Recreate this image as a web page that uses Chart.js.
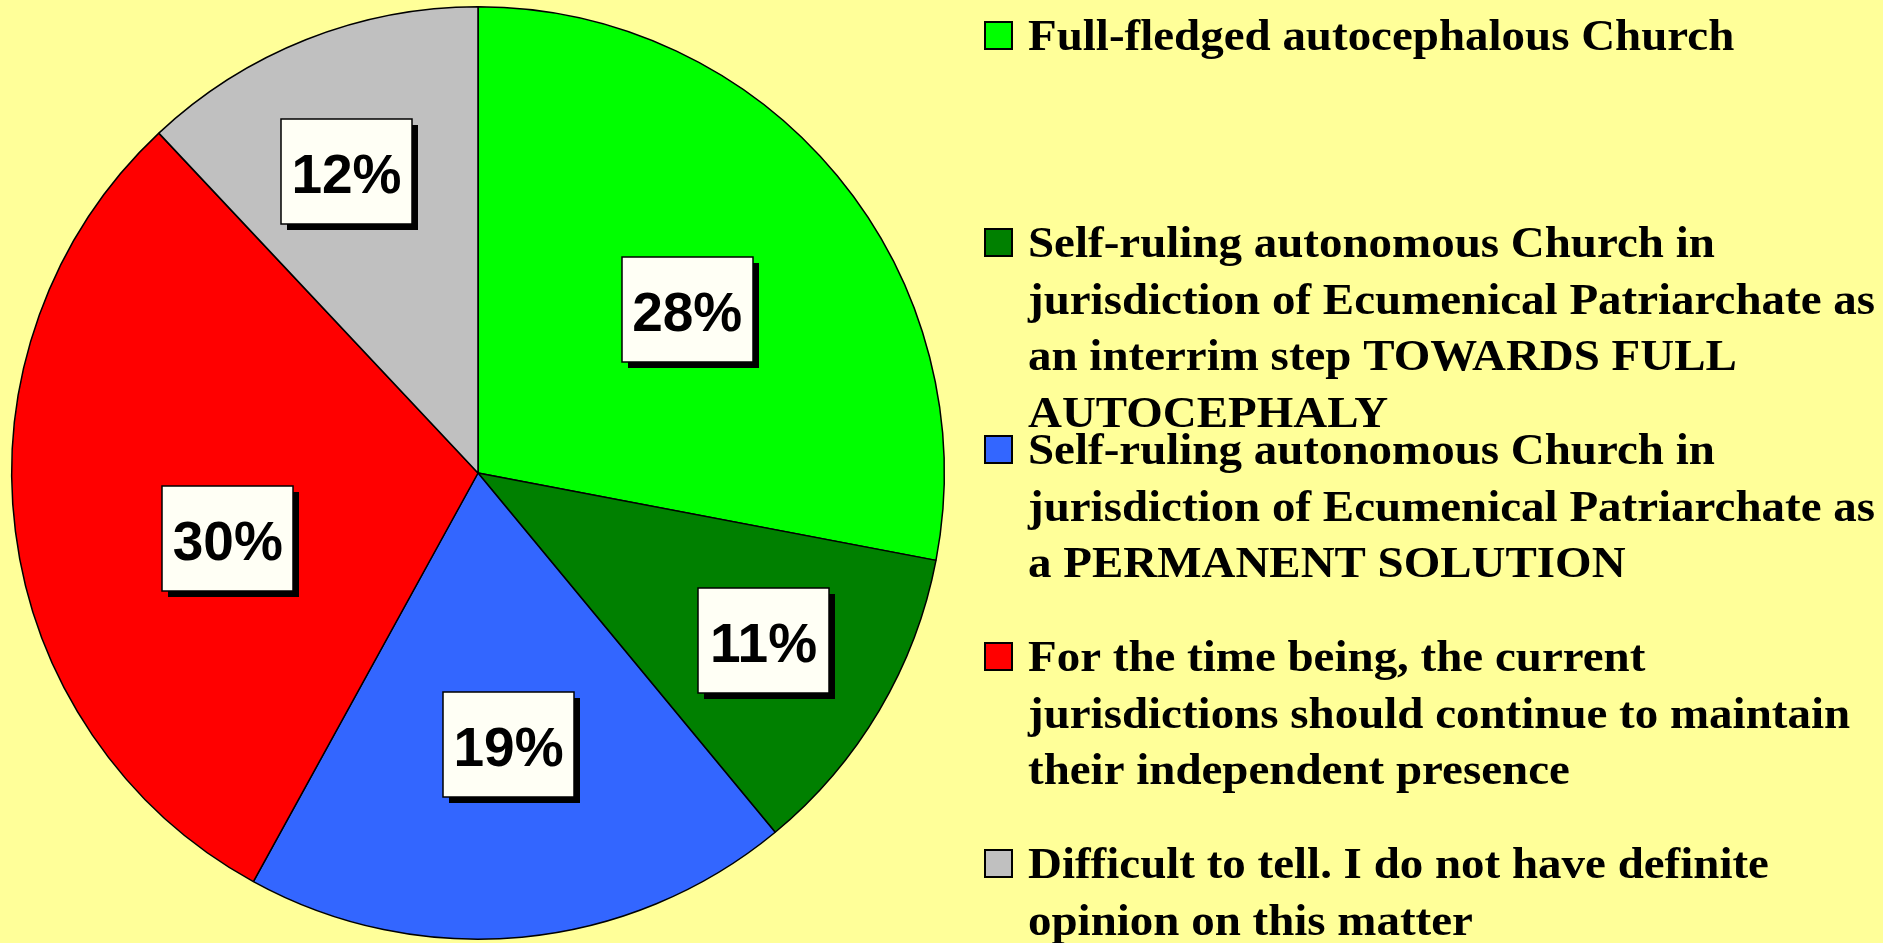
<!DOCTYPE html>
<html>
<head>
<meta charset="utf-8">
<script src="https://cdn.jsdelivr.net/npm/chart.js@4/dist/chart.umd.min.js"></script>
<style>
  html, body { margin: 0; padding: 0; background: #ffff99; }
  #wrap { width: 1883px; height: 943px; }
</style>
</head>
<body>
<div id="wrap"><canvas id="chart-pie" width="1883" height="943"></canvas></div>
<script>
const categories = [
  ['Full-fledged autocephalous Church'],
  ['Self-ruling autonomous Church in', 'jurisdiction of Ecumenical Patriarchate as', 'an interrim step TOWARDS FULL', 'AUTOCEPHALY'],
  ['Self-ruling autonomous Church in', 'jurisdiction of Ecumenical Patriarchate as', 'a PERMANENT SOLUTION'],
  ['For the time being, the current', 'jurisdictions should continue to maintain', 'their independent presence'],
  ['Difficult to tell. I do not have definite', 'opinion on this matter'],
];
const shares = [28, 11, 19, 30, 12];
const sliceColors = ['#00ff00', '#008000', '#3366ff', '#ff0000', '#c0c0c0'];

// where each value box sits inside its slice: fraction of radius, fraction of the slice's sweep
const boxRadius = [0.57, 0.71, 0.585, 0.555, 0.705];
const boxSweep = [0.515, 0.495, 0.485, 0.43, 0.454];

const valueBoxes = {
  id: 'valueBoxes',
  afterDatasetsDraw(chart) {
    const { ctx } = chart;
    const arcs = chart.getDatasetMeta(0).data;
    ctx.save();
    arcs.forEach((arc, i) => {
      const { x, y, startAngle, endAngle, outerRadius } = arc.getProps(['x', 'y', 'startAngle', 'endAngle', 'outerRadius'], true);
      const a = startAngle + (endAngle - startAngle) * boxSweep[i];
      const cx = x + Math.cos(a) * outerRadius * boxRadius[i];
      const cy = y + Math.sin(a) * outerRadius * boxRadius[i];
      const w = 131, h = 105;
      const left = Math.round(cx - w / 2), top = Math.round(cy - h / 2);
      ctx.fillStyle = '#000';
      ctx.fillRect(left + 6, top + 6, w, h);
      ctx.fillStyle = '#fffff5';
      ctx.fillRect(left, top, w, h);
      ctx.lineWidth = 1.5;
      ctx.strokeStyle = '#000';
      ctx.strokeRect(left, top, w, h);
      ctx.fillStyle = '#000';
      ctx.font = 'bold 55px "Liberation Sans", Arial, sans-serif';
      ctx.textAlign = 'center';
      ctx.textBaseline = 'alphabetic';
      ctx.fillText(`${shares[i]}%`, cx, top + h / 2 + 21);
    });
    ctx.restore();
  },
};

const sideLegend = {
  id: 'sideLegend',
  afterDraw(chart) {
    const { ctx } = chart;
    ctx.save();
    ctx.font = 'bold 45px "Liberation Serif", "Times New Roman", serif';
    const widest = ctx.measureText('jurisdiction of Ecumenical Patriarchate as').width;
    const sx = 847 / widest;
    categories.forEach((lines, i) => {
      const base = 50 + i * 207;
      ctx.fillStyle = sliceColors[i];
      ctx.fillRect(985, base - 28, 27, 27);
      ctx.lineWidth = 2;
      ctx.strokeStyle = '#000';
      ctx.strokeRect(985, base - 28, 27, 27);
      ctx.fillStyle = '#000';
      lines.forEach((line, j) => {
        ctx.save();
        ctx.translate(1028, base + j * 56.7);
        ctx.scale(sx, 1);
        ctx.fillText(line, 0, 0);
        ctx.restore();
      });
    });
    ctx.restore();
  },
};

new Chart(document.getElementById('chart-pie').getContext('2d'), {
  type: 'pie',
  data: {
    labels: categories,
    datasets: [{
      data: shares,
      backgroundColor: sliceColors,
      borderColor: '#000',
      borderWidth: 1.5,
      hoverOffset: 0,
    }],
  },
  options: {
    responsive: false,
    animation: false,
    layout: { padding: { left: 11, top: 6, right: 938, bottom: 3 } },
    plugins: {
      legend: { display: false },
      tooltip: { enabled: false },
    },
  },
  plugins: [valueBoxes, sideLegend],
});
</script>
</body>
</html>
